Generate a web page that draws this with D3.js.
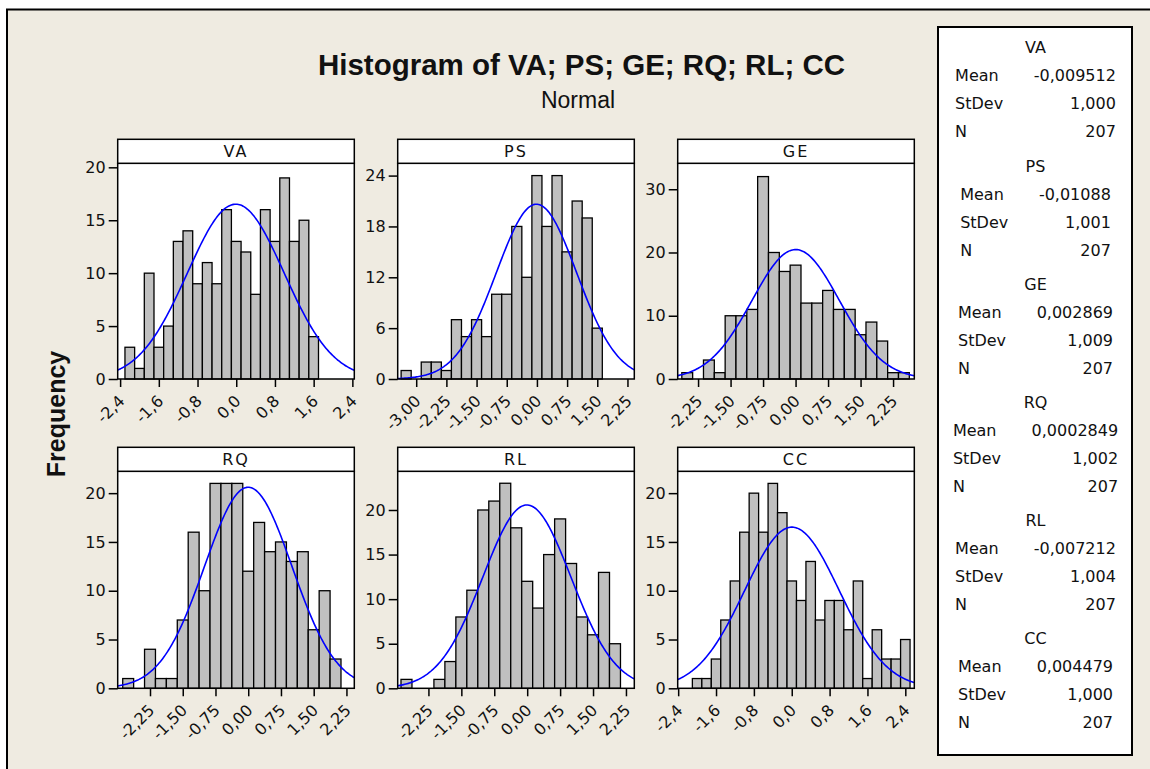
<!DOCTYPE html>
<html>
<head>
<meta charset="utf-8">
<script src="https://cdn.jsdelivr.net/npm/d3@7"></script>
<style>
body { margin: 0; background: #fff; }
text { font-family: "DejaVu Sans", sans-serif; fill: #111; }
</style>
</head>
<body>
<div id="mainDiv"></div>
<script>
// variables and their summary stats (legend)
var names = ["VA", "PS", "GE", "RQ", "RL", "CC"];
var means = [-0.009512, -0.01088, 0.002869, 0.0002849, -0.007212, 0.004479];
var meanLabels = ["-0,009512", "-0,01088", "0,002869", "0,0002849", "-0,007212", "0,004479"];
var stdevs = [1.000, 1.001, 1.009, 1.002, 1.004, 1.000];
var stdevLabels = ["1,000", "1,001", "1,009", "1,002", "1,004", "1,000"];
var ns = [207, 207, 207, 207, 207, 207];

// histogram bins: first bin midpoint, bin width, counts
var firstMids = [-2.2, -3.25, -2.5, -2.75, -2.75, -2.0];
var binWidths = [0.2, 0.25, 0.25, 0.25, 0.25, 0.2];
var countsVA = [3, 1, 10, 3, 5, 13, 14, 9, 11, 9, 16, 13, 12, 8, 16, 13, 19, 13, 15, 4];
var countsPS = [1, 0, 2, 2, 1, 7, 5, 7, 5, 10, 10, 18, 12, 24, 18, 24, 15, 21, 19, 6];
var countsGE = [1, 0, 3, 1, 10, 10, 11, 32, 20, 17, 18, 12, 12, 14, 11, 11, 7, 9, 6, 1, 1];
var countsRQ = [1, 0, 4, 1, 1, 7, 16, 10, 21, 21, 21, 12, 17, 14, 15, 13, 14, 6, 10, 3];
var countsRL = [1, 0, 0, 1, 3, 8, 11, 20, 21, 23, 18, 12, 9, 15, 19, 14, 8, 6, 13, 5];
var countsCC = [1, 1, 3, 7, 11, 16, 20, 16, 21, 18, 11, 9, 13, 7, 9, 9, 6, 11, 1, 6, 3, 3, 5];
var counts = [countsVA, countsPS, countsGE, countsRQ, countsRL, countsCC];

// axis ranges and ticks
var xDomains = [[-2.45, 2.44], [-3.46, 2.42], [-2.72, 2.74], [-2.99, 2.43], [-2.95, 2.44], [-2.41, 2.59]];
var ticks08 = [-2.4, -1.6, -0.8, 0, 0.8, 1.6, 2.4];
var ticks075 = [-2.25, -1.5, -0.75, 0, 0.75, 1.5, 2.25];
var xTicks = [ticks08, [-3, -2.25, -1.5, -0.75, 0, 0.75, 1.5, 2.25], ticks075, ticks075, ticks075, ticks08];
var yMax = [20.38, 25.45, 34.1, 22.24, 24.34, 22.24];
var yTicks = [[0, 5, 10, 15, 20], [0, 6, 12, 18, 24], [0, 10, 20, 30], [0, 5, 10, 15, 20], [0, 5, 10, 15, 20], [0, 5, 10, 15, 20]];

var title = "Histogram of VA; PS; GE; RQ; RL; CC";
var subtitle = "Normal";
var yLabel = "Frequency";

// layout
var colX = [117.7, 397.7, 677.7];
var panelW = 236.6;
var stripTop = [139.3, 447.3];
var stripH = 24;
var plotBottom = [379, 688.3];

var loc = d3.formatLocale({decimal: ",", thousands: ".", grouping: [3], currency: ["", ""], minus: "-"});

var svg = d3.select("#mainDiv").append("svg")
    .attr("width", 1150)
    .attr("height", 769);

svg.append("rect")
    .attr("x", 7).attr("y", 9.5)
    .attr("width", 1160).attr("height", 780)
    .attr("fill", "#EFEBE1")
    .attr("stroke", "#000")
    .attr("stroke-width", 2);

svg.append("text")
    .attr("x", 581.5).attr("y", 75)
    .attr("text-anchor", "middle")
    .style("font-family", "'Liberation Sans', Arial, sans-serif")
    .style("font-weight", "bold")
    .style("font-size", "29.5px")
    .text(title);

svg.append("text")
    .attr("x", 578).attr("y", 108)
    .attr("text-anchor", "middle")
    .style("font-family", "'Liberation Sans', Arial, sans-serif")
    .style("font-size", "23px")
    .text(subtitle);

svg.append("text")
    .attr("transform", "translate(65,414) rotate(-90)")
    .attr("text-anchor", "middle")
    .style("font-family", "'Liberation Sans', Arial, sans-serif")
    .style("font-weight", "bold")
    .style("font-size", "25px")
    .text(yLabel);

// number of decimals shown on a panel's x tick labels
function decimals(ticks) {
    return d3.max(ticks, function (t) {
        var s = String(t).split(".");
        return s.length > 1 ? s[1].length : 0;
    });
}

function drawPanel(i) {
    var col = i % 3, row = Math.floor(i / 3);
    var left = colX[col], right = left + panelW;
    var top = stripTop[row] + stripH, bottom = plotBottom[row];
    var bw = binWidths[i];

    var x = d3.scaleLinear().domain(xDomains[i]).range([left, right]);
    var y = d3.scaleLinear().domain([0, yMax[i]]).range([bottom, top]);
    var g = svg.append("g");

    g.append("rect")
        .attr("x", left).attr("y", top)
        .attr("width", panelW).attr("height", bottom - top)
        .attr("fill", "#fff");

    var bins = counts[i].map(function (c, j) {
        var mid = firstMids[i] + j * bw;
        return {x0: mid - bw / 2, x1: mid + bw / 2, c: c};
    });

    g.selectAll("rect.bar")
        .data(bins.filter(function (d) { return d.c > 0; }))
        .enter().append("rect")
        .attr("class", "bar")
        .attr("x", function (d) { return x(d.x0); })
        .attr("width", function (d) { return x(d.x1) - x(d.x0); })
        .attr("y", function (d) { return y(d.c); })
        .attr("height", function (d) { return y(0) - y(d.c); })
        .attr("fill", "#C0C0C0")
        .attr("stroke", "#000")
        .attr("stroke-width", 1.3);

    // fitted normal curve from the legend's mean / stdev / N
    var scale = ns[i] * bw / (stdevs[i] * Math.sqrt(2 * Math.PI));
    var xs = d3.range(0, 201).map(function (k) {
        return xDomains[i][0] + k * (xDomains[i][1] - xDomains[i][0]) / 200;
    });
    var line = d3.line()
        .x(function (v) { return x(v); })
        .y(function (v) {
            var z = (v - means[i]) / stdevs[i];
            return y(scale * Math.exp(-0.5 * z * z));
        });
    g.append("path")
        .attr("d", line(xs))
        .attr("fill", "none")
        .attr("stroke", "#0000FF")
        .attr("stroke-width", 1.6);

    // frame
    g.append("rect")
        .attr("x", left).attr("y", top)
        .attr("width", panelW).attr("height", bottom - top)
        .attr("fill", "none")
        .attr("stroke", "#000")
        .attr("stroke-width", 1.5);

    // strip
    g.append("rect")
        .attr("x", left).attr("y", stripTop[row])
        .attr("width", panelW).attr("height", stripH)
        .attr("fill", "#fff")
        .attr("stroke", "#000")
        .attr("stroke-width", 1.5);
    g.append("text")
        .attr("x", (left + right) / 2).attr("y", stripTop[row] + 18)
        .attr("text-anchor", "middle")
        .style("font-size", "16px")
        .style("letter-spacing", "2px")
        .text(names[i]);

    // axes
    var fmt = loc.format("." + decimals(xTicks[i]) + "f");
    var xAxis = g.append("g")
        .attr("transform", "translate(0," + bottom + ")")
        .call(d3.axisBottom(x).tickValues(xTicks[i]).tickSize(8).tickFormat(fmt));
    xAxis.select(".domain").remove();
    xAxis.selectAll("line").attr("stroke", "#000").attr("stroke-width", 1.5);
    xAxis.selectAll("text")
        .attr("x", 0).attr("y", 0).attr("dy", null)
        .attr("text-anchor", "end")
        .attr("transform", "translate(5,23) rotate(-45)")
        .attr("fill", "#111")
        .style("font-family", "'DejaVu Sans', sans-serif")
        .style("font-size", "16px");

    var yAxis = g.append("g")
        .attr("transform", "translate(" + left + ",0)")
        .call(d3.axisLeft(y).tickValues(yTicks[i]).tickSize(9).tickPadding(3));
    yAxis.select(".domain").remove();
    yAxis.selectAll("line").attr("stroke", "#000").attr("stroke-width", 1.5);
    yAxis.selectAll("text")
        .attr("fill", "#111")
        .style("font-family", "'DejaVu Sans', sans-serif")
        .style("font-size", "16px");
}

names.forEach(function (d, i) { drawPanel(i); });

// legend box
svg.append("rect")
    .attr("x", 938).attr("y", 27)
    .attr("width", 194).attr("height", 728)
    .attr("fill", "#fff")
    .attr("stroke", "#000")
    .attr("stroke-width", 2);

var legCx = 1035.5, legTop = 47.3, groupStep = 118.2, rowStep = 28, labelGap = 78.7;
names.forEach(function (name, i) {
    var cy = legTop + i * groupStep;
    var g = svg.append("g").style("font-size", "16px");
    g.append("text")
        .attr("x", legCx).attr("y", cy + 6)
        .attr("text-anchor", "middle")
        .text(name);
    var rows = [["Mean", meanLabels[i]], ["StDev", stdevLabels[i]], ["N", String(ns[i])]];
    var vals = rows.map(function (r, k) {
        return g.append("text")
            .attr("y", cy + (k + 1) * rowStep + 6)
            .attr("text-anchor", "end")
            .text(r[1]);
    });
    var vw = d3.max(vals, function (t) { return t.node().getComputedTextLength(); });
    var blockW = labelGap + vw;
    var bl = legCx - blockW / 2;
    vals.forEach(function (t) { t.attr("x", bl + blockW); });
    rows.forEach(function (r, k) {
        g.append("text")
            .attr("x", bl)
            .attr("y", cy + (k + 1) * rowStep + 6)
            .text(r[0]);
    });
});
</script>
</body>
</html>
